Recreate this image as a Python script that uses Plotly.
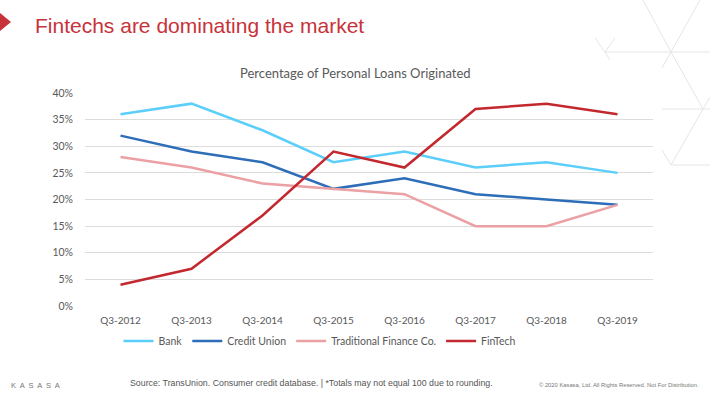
import plotly.graph_objects as go

categories = ["Q3-2012", "Q3-2013", "Q3-2014", "Q3-2015", "Q3-2016", "Q3-2017", "Q3-2018", "Q3-2019"]
bank = [0.36, 0.38, 0.33, 0.27, 0.29, 0.26, 0.27, 0.25]
credit_union = [0.32, 0.29, 0.27, 0.22, 0.24, 0.21, 0.20, 0.19]
traditional = [0.28, 0.26, 0.23, 0.22, 0.21, 0.15, 0.15, 0.19]
fintech = [0.04, 0.07, 0.17, 0.29, 0.26, 0.37, 0.38, 0.36]
y_ticks = [0, 0.05, 0.10, 0.15, 0.20, 0.25, 0.30, 0.35, 0.40]

W, H = 710, 399
L, R, T, B = 85, 653, 93, 306


def px(x):
    return (x - L) / (R - L)


def py(y):
    return (B - y) / (B - T)


series = [
    ("Bank", bank, "#5BCEFA"),
    ("Credit Union", credit_union, "#2E6DB8"),
    ("Traditional Finance Co.", traditional, "#EBA0A3"),
    ("FinTech", fintech, "#C3282E"),
]

fig = go.Figure()
for name, vals, col in series:
    fig.add_trace(go.Scatter(x=categories, y=vals, name=name, mode="lines",
                             line=dict(color=col, width=2.5)))

gray = "#595959"
fig.update_layout(
    width=W, height=H,
    margin=dict(l=L, r=W - R, t=T, b=H - B, pad=0, autoexpand=False),
    paper_bgcolor="white", plot_bgcolor="white",
    font=dict(family="Lato, Open Sans, sans-serif", size=10, color=gray),
    showlegend=True,
    legend=dict(orientation="h", x=px(320), xanchor="center", y=py(341), yanchor="middle",
                font=dict(size=10.5, color=gray), itemwidth=30, tracegroupgap=0,
                bgcolor="rgba(0,0,0,0)"),
    xaxis=dict(showgrid=False, showline=False, zeroline=False, ticks="",
               range=[-0.5, 7.5], ticklabelstandoff=7,
               tickfont=dict(size=10, color=gray)),
    yaxis=dict(range=[0, 0.40], tickvals=y_ticks, tickformat=".0%",
               showgrid=True, gridcolor="#DCDCDC", gridwidth=1, zeroline=False,
               showline=False, ticks="", ticklabelstandoff=11,
               tickfont=dict(size=10.5, color=gray)),
)

annotations = [
    dict(text="Fintechs are dominating the market", x=px(33), y=py(26), xanchor="left", yanchor="middle",
         font=dict(family="Liberation Sans, Arial, sans-serif", size=21, color="#C8323A")),
    dict(text="Percentage of Personal Loans Originated", x=px(355), y=py(73), xanchor="center", yanchor="middle",
         font=dict(family="Lato, Open Sans, sans-serif", size=13, color=gray)),
    dict(text="K  A  S  A  S  A", x=px(9), y=py(385), xanchor="left", yanchor="middle",
         font=dict(family="Liberation Sans, Arial, sans-serif", size=7.5, color="#777777")),
    dict(text="Source: TransUnion. Consumer credit database. | *Totals may not equal 100 due to rounding.",
         x=px(128), y=py(383), xanchor="left", yanchor="middle",
         font=dict(family="Liberation Sans, Arial, sans-serif", size=8.8, color="#555555")),
    dict(text="© 2020 Kasasa, Ltd. All Rights Reserved. Not For Distribution.",
         x=px(537), y=py(385), xanchor="left", yanchor="middle",
         font=dict(family="Liberation Sans, Arial, sans-serif", size=5.8, color="#777777")),
]
for a in annotations:
    a.update(xref="paper", yref="paper", showarrow=False)
fig.update_layout(annotations=annotations)

shapes = [dict(type="path", path=f"M {px(0)},{py(13)} L {px(11)},{py(22)} L {px(0)},{py(31)} Z",
               xref="paper", yref="paper", fillcolor="#C8323A", line=dict(width=0))]
deco = [
    ((605, 52), (710, 52)), ((671, 52), (700, 0)), ((671, 52), (643, 0)),
    ((671, 52), (703, 109)), ((671, 52), (662, 68)),
    ((662, 109), (710, 109)), ((703, 109), (671, 165)), ((703, 109), (710, 97)),
    ((671, 165), (710, 165)), ((671, 165), (662, 150)),
    ((605, 52), (595, 38)), ((605, 52), (615, 38)), ((605, 52), (610, 60)),
]
for (x0, y0), (x1, y1) in deco:
    shapes.append(dict(type="line", xref="paper", yref="paper", x0=px(x0), y0=py(y0), x1=px(x1), y1=py(y1),
                       line=dict(color="#E6E6E6", width=1), layer="below"))
fig.update_layout(shapes=shapes)

fig.write_html("out.html", config={"displayModeBar": False},
               post_script="document.body.style.margin='0';document.body.style.overflow='hidden';")
